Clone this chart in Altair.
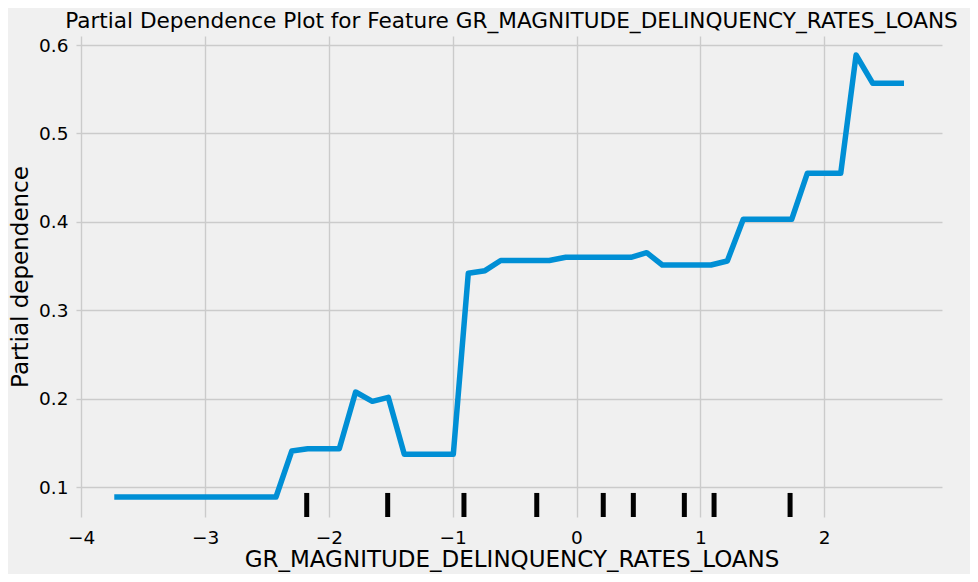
import altair as alt
import pandas as pd

# partial dependence curve (corner points)
grid_x = [-3.711, -2.427, -2.300, -2.171, -1.916, -1.784, -1.649, -1.520, -1.391,
          -0.995, -0.874, -0.739, -0.612, -0.220, -0.087, 0.440, 0.567, 0.693,
          1.086, 1.218, 1.347, 1.738, 1.864, 2.134, 2.258, 2.393, 2.623]
pd_vals = [0.089, 0.089, 0.141, 0.1435, 0.1435, 0.2077, 0.1972, 0.2017, 0.1373,
           0.1373, 0.3419, 0.3449, 0.3564, 0.3564, 0.3600, 0.3600, 0.3652, 0.3513,
           0.3513, 0.3558, 0.4030, 0.4030, 0.4550, 0.4550, 0.5887, 0.5567, 0.5567]

# deciles of the feature (rug)
deciles = [-2.179, -1.525, -0.909, -0.321, 0.216, 0.459, 0.871, 1.111, 1.725]

x_ticks = [-4, -3, -2, -1, 0, 1, 2]
y_ticks = [0.1, 0.2, 0.3, 0.4, 0.5, 0.6]

feature = "GR_MAGNITUDE_DELINQUENCY_RATES_LOANS"

W, H = 861, 481

curve = pd.DataFrame({"x": grid_x, "pd": pd_vals})
rug = pd.DataFrame({"x": deciles})

xscale = alt.Scale(domain=[-4.002, 2.952], nice=False, zero=False)
yscale = alt.Scale(domain=[0.0664, 0.6102], nice=False, zero=False)

line = alt.Chart(curve).mark_line(
    color="#008fd5", strokeWidth=5.5, strokeCap="square", strokeJoin="round"
).encode(
    x=alt.X("x:Q", scale=xscale,
            axis=alt.Axis(title=feature, values=x_ticks, format="d",
                          ticks=False, labelFlush=False, labelPadding=11,
                          titlePadding=2)),
    y=alt.Y("pd:Q", scale=yscale,
            axis=alt.Axis(title="Partial dependence", values=y_ticks, format=".1f",
                          ticks=True, tickSize=5, labelPadding=8, titlePadding=6)),
)

ticks = alt.Chart(rug).mark_rule(color="black", strokeWidth=5).encode(
    x=alt.X("x:Q", scale=xscale),
    y=alt.value(H),
    y2=alt.value(H - 0.05 * H),
)

chart = (line + ticks).properties(
    width=W,
    height=H,
    autosize=alt.AutoSizeParams(type="none"),
    padding={"left": 73, "top": 28, "right": 28, "bottom": 57},
    background="#f0f0f0",
    title=alt.TitleParams(
        "Partial Dependence Plot for Feature " + feature,
        font="DejaVu Sans", fontSize=21.6, fontWeight="normal", color="black",
        offset=3,
    ),
).configure_view(
    fill="#f0f0f0", stroke=None
).configure_axis(
    domain=False,
    gridColor="#cbcbcb", gridWidth=1.4,
    tickColor="#cbcbcb", tickWidth=1.4,
    labelFont="DejaVu Sans", labelFontSize=18.5, labelColor="black",
    titleFont="DejaVu Sans", titleFontSize=23, titleFontWeight="normal",
    titleColor="black",
)

chart.save("out.html", embed_options={"renderer": "svg", "actions": False})
